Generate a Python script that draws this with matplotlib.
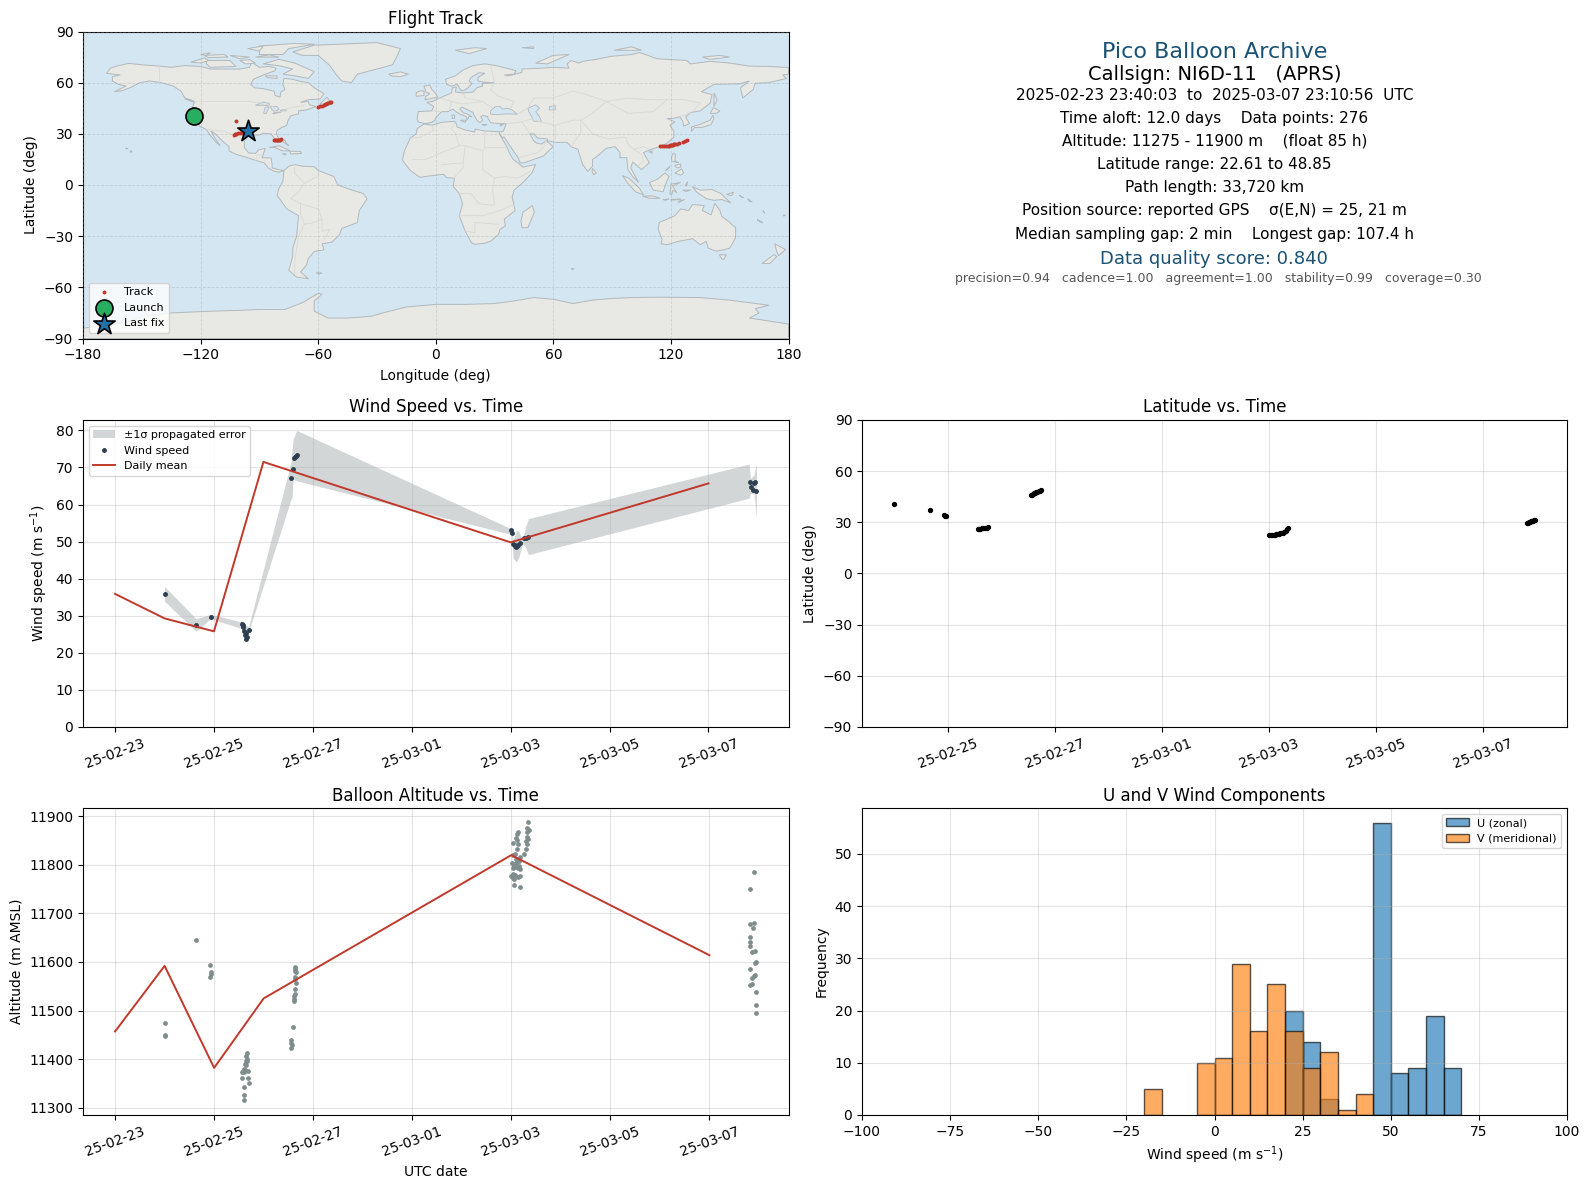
#!/usr/bin/env python3

import matplotlib
matplotlib.use('Agg')
from matplotlib import pyplot as plt
from matplotlib.patches import Polygon
import matplotlib.dates as mdates

W, H = 1590, 1189
DAY0 = mdates.datestr2num('2025-02-23')

RED = '#c0392b'
NAVY = '#2c3e50'
GREY = '#7f8c8d'
TITLE_BLUE = '#1a5276'

# --- coarse coastlines (lon, lat) ---
LAND = [
    # North America
    [(-168,65.5),(-166,68.5),(-162,70),(-156.5,71.3),(-150,70.5),(-141,69.7),(-135,69),(-128,70),(-120,69.5),
     (-115,68),(-108,68),(-100,68),(-95,69),(-94,72),(-90,69),(-85,69.5),(-81.5,68.5),(-82,67),(-87,65),(-93,62),
     (-94.5,59),(-92.5,57),(-88,56.5),(-82.5,55),(-82,52.5),(-79.5,51.5),(-79,54.5),(-77,56),(-78,59),(-77.5,62.5),
     (-73,62),(-70,61),(-65,60),(-62,57),(-57,53.5),(-59,50.5),(-65,50),(-69,48.5),(-65,49),(-64.5,47),(-61,46),
     (-66,44),(-70,43.5),(-70,41.7),(-74,40.5),(-75.5,37.5),(-76,35),(-78.5,33.8),(-81,32),(-81.3,30),(-80,27),
     (-80.5,25.2),(-81.7,26),(-82.8,28),(-84,30),(-88,30.3),(-90,29.2),(-94,29.5),(-97,28),(-97.7,25),(-97.7,22),
     (-95.5,18.8),(-92,18.5),(-90.5,20.5),(-87,21.5),(-88,18),(-88.7,16),(-84,15.8),(-83.5,12),(-83.5,10),(-80,9),
     (-77.5,8.5),(-80,7.5),(-83,8.3),(-85.5,10),(-87.5,13),(-92,14.5),(-96,16),(-102,18),(-105.5,20),(-105.5,22.5),
     (-109,26),(-112.5,30),(-114.7,31.7),(-113,28),(-110,23),(-112,25),(-115,29),(-117,32.5),(-120.5,34.5),
     (-122.5,37.5),(-124.3,40.3),(-124,46),(-123,49),(-128,51),(-130,55),(-134,58),(-140,60),(-146,61),(-151,60),
     (-155,57.5),(-160,55.3),(-164,54.7),(-158,58),(-162,59),(-165,61),(-165,63.5),(-161,64.5)],
    # South America
    [(-77.5,8.5),(-75,11),(-72,12),(-68,11),(-62,10.7),(-60,8.5),(-52,5),(-50,0),(-44,-2.5),(-37,-5),(-35,-8),
     (-39,-15),(-40,-22),(-48,-25.5),(-49,-29),(-53,-33.5),(-58,-34.5),(-57,-38),(-62,-39),(-65,-43),(-66,-47),
     (-69,-51),(-65,-55),(-71,-54),(-75,-50),(-73,-42),(-73,-37),(-71,-30),(-70,-18),(-76,-14),(-81,-6),(-80,-2),
     (-78,2)],
    # Africa
    [(-6,35.8),(-2,35),(3,36.8),(10,37.3),(11,34),(15,32.3),(20,31),(20,32.8),(25,31.7),(32.5,31.2),(32.5,30),
     (34,27),(36,23),(37.5,19),(39.5,15),(43,12),(44.5,10.5),(51,12),(49,7),(45,2),(40,-3),(39,-7),(40.5,-15),
     (35,-20),(35.5,-24),(32.8,-26),(32,-29),(28,-33),(25.5,-34),(20,-34.8),(18.3,-34),(15,-27),(12,-18),(13.7,-11),
     (12,-5),(9,-1),(9.5,4),(5.5,4.3),(4,6.3),(-4,5.2),(-8,4.5),(-13,8.5),(-17,14.5),(-16,20),(-13,27.5),(-10,30),
     (-9.5,33)],
    # Eurasia
    [(-9,37),(-9.5,38.7),(-9,43),(-2,43.5),(-1,46),(-4.5,48.5),(-1.5,49),(2,51),(4,52),(8,54),(8.5,57),(10.5,57.5),
     (10,54.5),(14,54),(19,54.5),(21,57),(24,58),(23.5,59.5),(30,60),(25,60.2),(21.5,61),(21.5,63),(25,65.5),(22,65.8),
     (18,63),(17,61),(18.5,59.5),(16.5,57),(14.5,55.5),(12.8,55.5),(11,59),(8,58),(5.5,59),(5,62),(10,64),(14,67.5),
     (19,70),(25,71),(31,70),(41,67),(40,65),(35,64.5),(37,64),(44,66),(44,68),(54,68.5),(60,69),(68,68.5),(67,71),
     (69,73),(73,71.5),(75,72.5),(81,73.5),(90,75.5),(100,76.5),(104,77.7),(113,74),(128,73),(130,71),(140,72.5),
     (150,71.5),(160,69.7),(170,69.5),(178,69),(180,68.8),(180,65),(177,64.5),(179,62.5),(170,60),(163,59.7),(162,56),
     (156.7,51),(155.5,57),(160,61),(155,59.3),(142,59),(135.5,54.7),(141,53),(140,48),(135,43.5),(130,42.5),
     (127.5,39.8),(129.5,36),(126.5,34.5),(126,37.5),(124.5,40),(121,39),(118,39),(122,37),(119.5,35),(121.5,31.5),
     (121.5,28),(118,24.5),(113.5,22.2),(110,21),(106,19),(109,13),(105,9),(100.5,13.5),(99.5,10),(103.5,1.5),(100.5,5),
     (98,9),(97.5,16),(94,16),(94,19),(91.5,22.5),(87,21.5),(82,16.5),(80,15),(80,11),(77.5,8),(75,12),(73,19),
     (72.5,21),(69,22.5),(67,25),(61,25),(57,26),(57,27),(52,27.5),(50,30),(48,30),(50,26),(51.5,24.5),(54,24),
     (56.3,26),(59.8,22.5),(55,17),(45,13),(43,13),(42,16),(39,21),(35,28),(34,28),(32.5,30),(32.5,31.2),(34.5,31.5),
     (36,36),(32,36),(28,36.5),(26.5,39.5),(26.5,40.2),(24,40.8),(23,40),(24,38),(22.5,36.5),(21,38),(19.5,41),
     (19,42.5),(13.5,45.7),(12.3,44.5),(14,42.3),(16,41.7),(18.4,40),(17,40.5),(16.5,39),(16,38),(15.7,40),(12.5,41.5),
     (10.3,43),(8.8,44.4),(6,43),(3,43),(0,39.5),(-0.5,38),(-2,36.7),(-5.5,36)],
    # Australia
    [(114,-22),(113.5,-26),(115.5,-32),(115,-34.5),(118,-35),(124,-33),(131,-31.5),(135,-35),(138,-33),(139,-37),
     (143,-38.8),(147,-38),(150,-37),(153,-31),(153,-25),(149,-21),(146,-18.5),(145,-15),(142.5,-10.8),(141.5,-14),
     (140.5,-17.5),(136,-15),(137,-12),(131,-11.5),(129,-15),(125,-14),(122,-18)],
    # Antarctica
    [(-180,-90),(-180,-84),(-155,-80),(-150,-77),(-135,-75),(-115,-74),(-100,-73.5),(-90,-73),(-77,-73),(-68,-69),
     (-60,-63.5),(-58,-64),(-62,-68),(-62,-74),(-55,-78),(-45,-78),(-33,-77),(-27,-75),(-15,-71.5),(0,-70),(15,-70),
     (30,-69.5),(40,-68),(50,-66),(60,-67),(70,-69.5),(80,-67.5),(90,-66.5),(100,-66),(110,-65.8),(120,-65.8),
     (135,-66),(150,-67.5),(170,-70.5),(163,-72.5),(165,-75),(160,-78),(180,-81.5),(180,-90)],
    # Greenland
    [(-73,78),(-68,76),(-60,76),(-54,70),(-51,65),(-48,61),(-43,60),(-40,65),(-30,68),(-22,70.5),(-20,75),(-18,80),
     (-30,83.5),(-50,82.5),(-62,82)],
    # islands, arctic Canada
    [(-80,73.7),(-72,71.5),(-67,69),(-62,66.5),(-65,62.5),(-72,64),(-78,65),(-73,68),(-80,70),(-88,71)],
    [(-117,73),(-105,73),(-102,69.5),(-115,69),(-117,71)],
    [(-125,72),(-118,74.5),(-116,73),(-120,71.5)],
    [(-90,76.5),(-78,76.5),(-75,80),(-62,82.5),(-72,83),(-90,81.5)],
    [(-96,80),(-88,81.5),(-90,78.5)],
    [(-92,75),(-80,75),(-85,76.3)],
    [(-105,76),(-95,75),(-100,74)],
    [(-118,76),(-108,76.5),(-106,75),(-116,74.7)],
    [(-100,73),(-95,73.5),(-92,71.5),(-97,71)],
    [(-120,76.5),(-115,77.5),(-117,76)],
    [(-87,64),(-81,64),(-81,62.5),(-86,63)],
    [(-59,47.7),(-53,47),(-55.5,51.5)],
    # Europe, Atlantic
    [(-24,65),(-18,66.3),(-14,65),(-18,63.5),(-22.5,64)],
    [(-5.5,50),(1,51.5),(0,53.5),(-2,56),(-3,58.6),(-6,58),(-5,54.5),(-3,53.5),(-5,52)],
    [(-10,52),(-6,52.5),(-6,55),(-8,55.2),(-10,54)],
    [(10,79),(20,80.5),(26,80),(17,77)],
    [(44,80.5),(50,81),(50,80)],
    [(51,71.5),(57,71),(68,76.5),(60,76)],
    [(91,79),(100,81),(105,79)],
    [(136,75),(145,76),(150,75),(140,73.7)],
    [(12.5,38),(15.5,38),(15,36.7)],
    [(8.3,41),(9.7,41),(9.5,39),(8.5,39)],
    [(23.5,35.5),(26,35.3),(24.5,35)],
    [(33,35.5),(34.5,35.6),(33,34.6)],
    # Caribbean, Pacific America
    [(-85,22),(-80,23),(-75,20.5),(-74.5,20),(-78,20),(-82,22)],
    [(-74.5,19.8),(-69,19.7),(-68.5,18.5),(-74,18.2)],
    [(-78.3,18.4),(-76.3,18.2),(-77,17.7)],
    [(-78,25.5),(-77,26.5),(-76,24),(-75,23)],
    [(-128,50.5),(-123.5,48.5),(-125,50)],
    [(-156,20.2),(-155,19.7),(-155.6,19)],
    [(-158.2,21.7),(-157,21.3),(-157.8,21.2)],
    [(-61,-51.5),(-58,-51.5),(-59.5,-52.3)],
    # Asia, Pacific
    [(130.5,34),(135,35.6),(140,38),(141.5,41),(142,39),(140.5,35.5),(136,33.8),(132,33.7),(130.5,31.3)],
    [(140,42),(141.7,45.4),(145,43.3),(143,42)],
    [(142,46),(142,54),(143.5,50)],
    [(120.2,23),(121.5,25.2),(121,22)],
    [(108.8,19.5),(110.5,20),(110.5,18.6)],
    [(120.3,16),(121,18.5),(122.3,18),(122,14),(124,13),(120.5,14)],
    [(122,7),(125.5,9.5),(126.5,7),(125,5.7)],
    [(122,11.5),(125,12.3),(125,10.5),(123,10)],
    [(117.3,8.5),(119.5,11),(119,10)],
    [(109,1.5),(113,3.3),(117,7),(119,5),(117.5,1),(116,-4),(111,-3)],
    [(95.3,5.5),(98.5,4),(104,-2),(106,-5.8),(102,-4),(98,1)],
    [(105.5,-6.5),(111,-6.5),(114.5,-7.8),(109,-7.8)],
    [(116,-8.5),(119,-8.3),(117,-9)],
    [(120,-8.5),(125,-8.3),(120,-9)],
    [(124,-9.5),(127,-8.5),(123.8,-10.3)],
    [(119.5,-5.5),(120,0.5),(125,1.5),(120.8,-0.5),(123,-4.5),(121,-3),(120.5,-5.5)],
    [(127.5,0),(128.5,2),(128,-0.8)],
    [(126,-3),(130,-3),(127.5,-3.8)],
    [(131,-1),(135,-3),(141,-2.7),(145.5,-5),(150.5,-10.5),(146,-8.5),(142,-9),(138,-8),(133,-4)],
    [(148.5,-5.5),(152,-4.2),(151,-6.2)],
    [(155,-6),(157,-7.5),(156,-7)],
    [(159,-8),(161.5,-10),(160,-9.5)],
    [(167,-15),(168,-16.5),(167.3,-16)],
    [(177.5,-17.5),(178.5,-17.8),(177.5,-18.2)],
    [(164,-20.3),(167,-22),(166,-22)],
    [(49.3,-12),(50.3,-16),(47,-25),(44,-25),(43.5,-21),(44.5,-16)],
    [(80,9.7),(82,7),(80.5,6),(79.8,8)],
    [(173,-34.5),(178.5,-37.8),(175,-41.5),(174,-39)],
    [(172.7,-40.7),(174,-42),(170.5,-46),(166.5,-46)],
    [(144.7,-40.8),(148.3,-41),(147,-43.5),(146,-43.5)],
    [(69,-49),(70.5,-49),(70,-49.7)],
]
WATER = [
    [(28,41.5),(31,41.2),(36,41.7),(41.5,41.5),(39,44),(36.5,45),(34,44.5),(33,46),(30.5,46),(28,43.5)],
    [(47,45),(51,47),(53,45),(51,43),(53,40),(54,37),(50,37.5),(49,40),(47.5,43)],
    [(-92,46.7),(-88,48.7),(-85,47.8),(-85,46.5),(-88,46.8)],
    [(-87.8,42),(-86.5,42),(-85,45.8),(-87,45.7)],
    [(-84.5,46),(-81,46),(-80,44.5),(-82,43),(-83.5,44)],
    [(-83,41.7),(-79,42.8),(-79,43),(-83,42.2)],
    [(-79.5,43.3),(-76.3,43.5),(-76.5,44.2),(-79,43.9)],
    [(58,46),(61,46.5),(61,44),(58,44)],
]
BORDERS = [
    [(-123,49),(-95,49),(-89,48),(-83,46),(-82,43),(-79,43),(-75,45),(-70,46),(-67,47)],
    [(-141,69.7),(-141,60)],
    [(-117,32.5),(-108,31.5),(-104,29.5),(-100,28),(-97.5,26)],
    [(-92,14.5),(-91,17.5),(-88.5,18)],
    [(-72,12),(-72,7),(-67,1),(-70,-4),(-74,-8),(-69,-11),(-69,-17),(-67,-23),(-70,-30),(-72,-45),(-72,-52)],
    [(-60,8.5),(-60,5),(-64,3),(-67,1)],
    [(-58,-20),(-58,-27),(-54,-26),(-58,-34)],
    [(-69,-11),(-60,-14),(-58,-20),(-62,-22),(-67,-23)],
    [(-2,35),(-1,32),(-8,28),(-13,27.5)],
    [(10,37.3),(8,33),(10,30),(12,23),(15,23),(24,20),(25,22),(25,31.7)],
    [(25,22),(36,22)],
    [(-12,15),(-5,15),(3,19),(12,23)],
    [(3,12),(14,13),(15,23)],
    [(24,20),(24,9),(30,4),(35,5),(42,4),(48,8)],
    [(9,4),(14,10),(14,13)],
    [(12,-5),(18,-5),(22,-11),(30,-12),(29,-3),(30,4)],
    [(12,-18),(24,-18),(33,-15),(40.5,-11)],
    [(15,-27),(20,-28),(20,-22),(32,-23)],
    [(2,51),(8,49),(7,44)],
    [(-2,43.5),(3,43)],
    [(14,54),(15,51),(24,49),(29,45)],
    [(8,49),(13,47.5),(17,48),(24,49)],
    [(28,70),(30,60),(28,56),(32,52),(40,49),(38,45)],
    [(41.5,41.5),(47,45),(50,51),(60,51),(70,55),(77,53),(87,49),(98,51),(108,50),(118,50),(127,50),(135,48),(131,43)],
    [(87,49),(80,42),(74,38),(70,38),(61,35),(61,25)],
    [(54,37),(61,35)],
    [(36,36),(44,37),(48,30)],
    [(44,37),(48,38.5),(54,37)],
    [(87,49),(98,42),(111,43),(118,50)],
    [(74,38),(80,30),(88,27),(97,28),(98,24),(101,21),(106,22.5),(108,21.5)],
    [(74,38),(74,31),(70,24),(69,22.5)],
    [(101,21),(105,18),(106,14),(103,11)],
    [(42,16),(52,19),(55,22),(56.3,26)],
    [(124.5,40),(130,42.5)],
]

# --- flight data, days since 2025-02-23 00:00 UTC ---
track_lon = [-102, -96.5, -96, -95.5, -82.5, -82, -81.5, -81, -80.5, -80, -79.5, -79, -60, -59, -58, -57, -56.5,
             -56, -55.5, -55, -54, -53.3, 114.5, 115.5, 116.5, 117.5, 118.5, 119, 119.5, 120, 120.5, 121, 121.5,
             122, 123, 124, 126, 127, 128, -103, -102.5, -102, -101, -100, -99, -98, -97, -96.2]
track_lat = [37.3, 33.5, 33.9, 34.3, 26.3, 26.2, 26.4, 26.3, 26.5, 26.4, 26.6, 27, 46, 46.3, 46.6, 46.9, 47.3,
             47.6, 48, 48.3, 48.6, 48.85, 22.61, 22.7, 22.7, 22.9, 23, 23.1, 23.2, 23.3, 23.5, 23.6, 23.8,
             24, 24.2, 24.6, 25.4, 25.9, 26.5, 29.6, 29.9, 30.1, 30.3, 30.5, 30.7, 30.9, 31.1, 31.5]
launch_lon, launch_lat = -123.5, 40.2
last_lon, last_lat = -96, 31.5

lat_t = [0.99, 1.66, 1.93, 1.95, 1.97, 2.55, 2.58, 2.60, 2.63, 2.66, 2.69, 2.72, 2.75, 3.55, 3.57, 3.59, 3.61,
         3.63, 3.65, 3.67, 3.70, 3.72, 3.74, 8.00, 8.03, 8.05, 8.08, 8.10, 8.12, 8.14, 8.16, 8.18, 8.20, 8.22,
         8.25, 8.28, 8.31, 8.34, 8.36, 12.81, 12.83, 12.85, 12.87, 12.89, 12.91, 12.93, 12.95, 12.965]
lat_deg = [40.7, 37.3, 34.3, 33.9, 33.5, 26.2, 26.3, 26.3, 26.4, 26.4, 26.5, 26.6, 27.0, 46.0, 46.3, 46.6, 47.0,
           47.3, 47.7, 48.0, 48.3, 48.6, 48.85, 22.3, 22.4, 22.5, 22.7, 22.8, 23.0, 23.1, 23.2, 23.4, 23.5, 23.7,
           24.0, 24.6, 25.2, 25.9, 26.5, 29.6, 29.8, 30.0, 30.2, 30.5, 30.7, 31.0, 31.2, 31.5]

day_t = [0, 1, 2, 3, 8, 12]
day_wind = [35.9, 29.3, 25.8, 71.5, 49.8, 65.7]
day_alt = [11457, 11592, 11382, 11525, 11820, 11614]

wind_t = [1.00, 1.64, 1.93, 2.57, 2.59, 2.59, 2.61, 2.70, 2.65, 2.63, 2.67, 2.65, 3.56, 3.60, 3.62, 3.64, 3.65, 3.67,
          8.00, 8.03, 8.05, 8.08, 8.11, 8.15, 8.19, 8.09, 8.13, 8.27, 8.32, 8.35,
          12.84, 12.94, 12.86, 12.90, 12.96, 12.92]
wind_s = [35.8, 27.5, 29.6, 27.8, 27.4, 26.9, 26.0, 26.1, 25.3, 24.9, 24.2, 23.8, 67.1, 69.7, 72.6, 72.9, 73.1, 73.4,
          53.1, 52.4, 49.3, 49.0, 48.6, 49.0, 49.6, 48.9, 48.8, 51.0, 51.1, 51.2,
          66.2, 66.0, 64.8, 64.0, 63.7, 65.9]
band_t = [1.00, 1.64, 1.93, 2.57, 2.70, 3.56, 3.58, 3.60, 3.67, 8.02, 8.05, 8.12, 8.17, 8.24, 8.30, 8.36,
          12.82, 12.85, 12.92, 12.97]
band_hi = [37.9, 29.2, 30.4, 28.3, 27.0, 71.5, 75.0, 77.5, 80.0, 53.4, 50.5, 53.2, 52.5, 50.6, 54.0, 56.2,
           70.9, 67.0, 68.0, 71.0]
band_lo = [33.9, 25.8, 29.2, 26.5, 25.6, 61.5, 61.7, 67.0, 66.4, 51.9, 45.5, 44.5, 46.0, 49.4, 48.5, 46.5,
           61.7, 63.0, 63.0, 56.7]

alt_t = [1.00, 1.00, 1.00, 1.64, 1.92, 1.94, 1.94, 1.92,
         2.66, 2.64, 2.66, 2.64, 2.67, 2.62, 2.65, 2.60, 2.62, 2.57, 2.69, 2.60, 2.56, 2.69, 2.71, 2.60, 2.60, 2.60,
         3.63, 3.64, 3.63, 3.65, 3.64, 3.64, 3.65, 3.64, 3.63, 3.62, 3.61, 3.62, 3.59, 3.56, 3.56, 3.57, 3.55,
         8.34, 8.32, 8.35, 8.31, 8.13, 8.11, 8.32, 8.10, 8.34, 8.30, 8.12, 8.14, 8.04, 8.32, 8.12, 8.30, 8.26, 8.18,
         8.07, 8.03, 8.09, 8.02, 8.10, 8.16, 8.05, 8.13, 8.18, 8.03, 8.16, 8.09, 7.99, 8.03, 8.07, 8.17, 8.13, 8.05,
         8.03, 8.05, 8.18,
         12.91, 12.83, 12.83, 12.91, 12.89, 12.83, 12.83, 12.83, 12.86, 12.93, 12.95, 12.93, 12.83, 12.86, 12.93,
         12.91, 12.87, 12.83, 12.95, 12.95, 12.95]
alt_m = [11475, 11450, 11447, 11645, 11593, 11579, 11575, 11570,
         11412, 11407, 11401, 11397, 11396, 11390, 11387, 11380, 11377, 11373, 11375, 11373, 11362, 11362, 11351,
         11343, 11326, 11316,
         11589, 11585, 11582, 11579, 11570, 11566, 11556, 11545, 11535, 11530, 11524, 11519, 11467, 11439, 11434,
         11429, 11423,
         11888, 11875, 11871, 11868, 11868, 11863, 11858, 11855, 11853, 11849, 11851, 11843, 11845, 11843, 11832,
         11832, 11822, 11817, 11822, 11821, 11812, 11803, 11803, 11807, 11797, 11793, 11791, 11793, 11798, 11795,
         11776, 11782, 11779, 11777, 11775, 11771, 11773, 11758, 11754,
         11785, 11750, 11678, 11680, 11670, 11651, 11641, 11633, 11621, 11623, 11601, 11598, 11586, 11567, 11573,
         11571, 11555, 11553, 11538, 11512, 11495]

hist_edges = [-20, -5, 0, 5, 10, 15, 20, 25, 30, 35, 40, 45, 50, 55, 60, 65]
u_counts = [0, 0, 0, 0, 0, 0, 20, 14, 3, 0, 0, 56, 8, 9, 19, 9]
v_counts = [5, 10, 11, 29, 16, 25, 16, 9, 12, 1, 4, 0, 0, 0, 0, 0]
date_ticks = ['2025-02-23', '2025-02-25', '2025-02-27', '2025-03-01', '2025-03-03', '2025-03-05', '2025-03-07']

info_lines = [
    ('Pico Balloon Archive', 16, TITLE_BLUE, 52, 0),
    ('Callsign: NI6D-11   (APRS)', 14, 'black', 74, 0),
    ('2025-02-23 23:40:03  to  2025-03-07 23:10:56  UTC', 11, 'black', 95.5, 0),
    ('Time aloft: 12.0 days    Data points: 276', 11, 'black', 118, 0),
    ('Altitude: 11275 - 11900 m    (float 85 h)', 11, 'black', 141, 0),
    ('Latitude range: 22.61 to 48.85', 11, 'black', 164, 0),
    ('Path length: 33,720 km', 11, 'black', 187.5, 0),
    ('Position source: reported GPS    σ(E,N) = 25, 21 m', 11, 'black', 211, 0),
    ('Median sampling gap: 2 min    Longest gap: 107.4 h', 11, 'black', 234, 0),
    ('Data quality score: 0.840', 13, TITLE_BLUE, 258.5, -1),
    ('precision=0.94   cadence=1.00   agreement=1.00   stability=0.99   coverage=0.30', 9, '#555555', 279, 4),
]


def make_axes(left, top, right, bottom):
    return fig.add_axes([left / W, 1 - bottom / H, (right - left) / W, (bottom - top) / H])


def days(values):
    return [DAY0 + v for v in values]


def date_axis(ax, ticks):
    ax.set_xticks(mdates.datestr2num(ticks))
    ax.xaxis.set_major_formatter(mdates.DateFormatter('%y-%m-%d'))
    ax.tick_params(axis='x', labelrotation=20)


fig = plt.figure(figsize=(W / 100, H / 100), dpi=100)
L1, R1, L2, R2 = 83, 788.5, 862, 1567

# map
ax = make_axes(L1, 31.5, R1, 338.5)
ax.set_facecolor('#d4e6f1')
for poly in LAND:
    ax.add_patch(Polygon(poly, closed=True, facecolor='#e8e8e4', edgecolor='#b3b9bc', linewidth=0.7, zorder=1))
for poly in WATER:
    ax.add_patch(Polygon(poly, closed=True, facecolor='#d4e6f1', edgecolor='#b3b9bc', linewidth=0.6, zorder=1.1))
for line in BORDERS:
    ax.plot([p[0] for p in line], [p[1] for p in line], color='#d8dad8', linewidth=0.6, zorder=1.2)
ax.scatter(track_lon, track_lat, s=8, linewidths=0, color=RED, zorder=3, label='Track')
ax.scatter([launch_lon], [launch_lat], s=150, color='#27ae60', edgecolor='black', linewidth=1.2, zorder=4, label='Launch')
ax.scatter([last_lon], [last_lat], s=260, marker='*', color='#2471a3', edgecolor='black', linewidth=1.2, zorder=5, label='Last fix')
ax.set_xlim(-180, 180)
ax.set_ylim(-90, 90)
ax.set_xticks(range(-180, 181, 60))
ax.set_yticks(range(-90, 91, 30))
ax.set_axisbelow(False)
ax.grid(color='#9aa5ab', alpha=0.35, linewidth=0.6, linestyle='--')
ax.set_xlabel('Longitude (deg)', labelpad=5)
ax.set_ylabel('Latitude (deg)')
ax.set_title('Flight Track', fontsize=12, pad=5.5)
ax.legend(loc='lower left', fontsize=8)

# summary text
cx = (L2 + R2) / 2
for text, size, color, y, dx in info_lines:
    fig.text((cx + dx) / W, 1 - y / H, text, fontsize=size, color=color, ha='center', va='center')

# wind speed
ax = make_axes(L1, 420, R1, 727)
ax.fill_between(days(band_t), band_lo, band_hi, color=GREY, alpha=0.35, linewidth=0, label='±1σ propagated error')
ax.plot(days(wind_t), wind_s, linestyle='none', marker='o', ms=2.5, color=NAVY, label='Wind speed')
ax.plot(days(day_t), day_wind, color=RED, linewidth=1.4, label='Daily mean')
date_axis(ax, date_ticks)
ax.set_ylim(0, 82.8)
ax.set_ylabel('Wind speed (m s$^{-1}$)')
ax.set_title('Wind Speed vs. Time', fontsize=12)
ax.grid(alpha=0.35)
ax.legend(loc='upper left', fontsize=8)

# latitude
ax = make_axes(L2, 420, R2, 727)
ax.plot(days(lat_t), lat_deg, linestyle='none', marker='o', ms=2.8, color='black')
date_axis(ax, date_ticks[1:])
ax.set_ylim(-90, 90)
ax.set_yticks(range(-90, 91, 30))
ax.set_ylabel('Latitude (deg)')
ax.set_title('Latitude vs. Time', fontsize=12)
ax.grid(alpha=0.35)

# altitude
ax = make_axes(L1, 808, R1, 1115)
ax.plot(days(alt_t), alt_m, linestyle='none', marker='o', ms=2.4, color=GREY)
ax.plot(days(day_t), day_alt, color=RED, linewidth=1.4)
date_axis(ax, date_ticks)
ax.set_ylim(11285, 11917)
ax.set_xlabel('UTC date')
ax.set_ylabel('Altitude (m AMSL)')
ax.set_title('Balloon Altitude vs. Time', fontsize=12, pad=5)
ax.grid(alpha=0.35)

# U/V histogram
ax = make_axes(L2, 808, R2, 1115)
ax.bar(hist_edges, u_counts, width=5, align='edge', color='#1f77b4', edgecolor='black', alpha=0.65, label='U (zonal)')
ax.bar(hist_edges, v_counts, width=5, align='edge', color='#ff7f0e', edgecolor='black', alpha=0.65, label='V (meridional)')
ax.set_xlim(-100, 100)
ax.set_ylim(0, 58.8)
ax.set_xlabel('Wind speed (m s$^{-1}$)')
ax.set_ylabel('Frequency')
ax.set_title('U and V Wind Components', fontsize=12, pad=5)
ax.grid(alpha=0.35)
ax.legend(loc='upper right', fontsize=8)

fig.savefig('out.png', dpi=100)
